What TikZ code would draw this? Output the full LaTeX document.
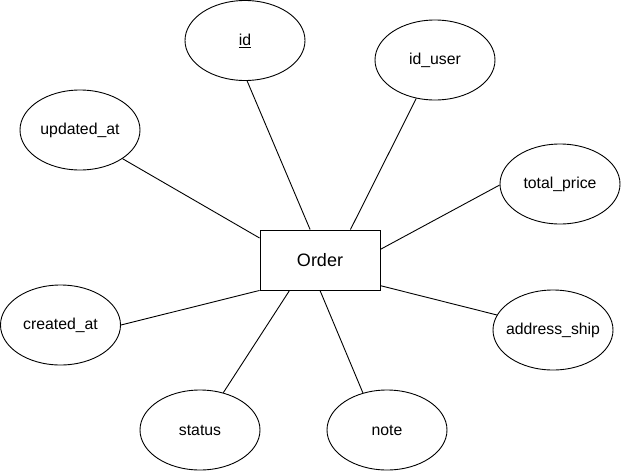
\documentclass[tikz,border=0pt]{standalone}
\usepackage{fontspec}
\setmainfont{Liberation Sans}
\usetikzlibrary{shapes.geometric}
\tikzset{
  attr/.style={draw, ellipse, line width=0.9pt, minimum width=120pt, minimum height=80pt, inner sep=0pt, font=\fontsize{15.8}{19}\selectfont},
  entity/.style={draw, rectangle, line width=0.9pt, minimum width=120pt, minimum height=60pt, inner sep=0pt, font=\fontsize{18}{21}\selectfont},
  link/.style={line width=0.9pt}
}
\begin{document}
\begin{tikzpicture}[x=1pt,y=-1pt]
\useasboundingbox (0,0) rectangle (621,471);
\node[entity] (order) at (320,260) {Order};
\node[attr] (id) at (245,40.5) {\makebox[0pt]{\underline{id}}};
\node[attr] (iduser) at (435,60) {\makebox[0pt]{id\_user}};
\node[attr] (upd) at (80,130) {\makebox[0pt]{updated\_at}};
\node[attr] (total) at (560,184) {\makebox[0pt]{total\_price}};
\node[attr] (created) at (60.5,325) {\makebox[0pt]{created\_at}};
\node[attr] (addr) at (553,330) {\makebox[0pt]{address\_ship}};
\node[attr] (status) at (200,430) {\makebox[0pt]{status}};
\node[attr] (note) at (387,430) {\makebox[0pt]{note}};
\draw[link] (id.-87.2) -- (order.108.4);
\draw[link] (iduser.-116) -- (order.45);
\draw[link] (upd.-34) -- (order.160.7);
\draw[link] (total.-179) -- (order.10.4);
\draw[link] (created.0) -- (order.south west);
\draw[link] (addr.165) -- (order.-23.4);
\draw[link] (status.58.1) -- (order.-135);
\draw[link] (note.123.7) -- (order.south);
\end{tikzpicture}
\end{document}
